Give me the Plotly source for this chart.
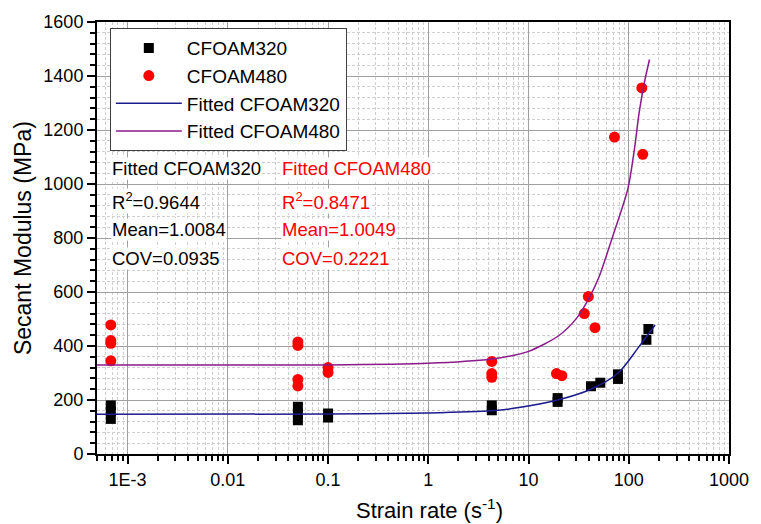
import math
import plotly.graph_objects as go

# ---- data ----
rate_320 = [0.00068, 0.00068, 0.00068, 0.05, 0.05, 0.05, 0.1, 0.1, 4.3, 4.3,
            19.5, 19.5, 42, 52, 78, 78, 150, 157]
mod_320 = [180, 158, 130, 175, 150, 125, 150, 135, 180, 162,
           207, 193, 251, 264, 295, 278, 423, 463]

rate_480 = [0.00068, 0.00068, 0.00068, 0.00068, 0.05, 0.05, 0.05, 0.05, 0.1, 0.1,
            4.3, 4.3, 4.3, 19, 21.5, 36, 39.5, 46, 72, 135, 138]
mod_480 = [478, 420, 410, 345, 415, 402, 276, 252, 320, 302,
           343, 298, 284, 298, 290, 520, 583, 468, 1174, 1356, 1110]

fit_rate_320 = [0.00049, 0.1, 1, 4.3, 7.4, 19.5, 41.8, 78.5, 125, 183]
fit_mod_320 = [147, 148, 152, 160, 170, 200, 240, 300, 395, 478]

fit_rate_480 = [0.00049, 0.1, 1, 4.3, 7.4, 10, 20, 30.5, 39.5, 50, 70, 98, 114, 127, 143, 161]
fit_mod_480 = [330, 330, 336, 352, 367, 380, 438, 505, 573, 652, 812, 983, 1130, 1265, 1375, 1461]

x_tickvals = [0.001, 0.01, 0.1, 1, 10, 100, 1000]
x_ticktext = ["1E-3", "0.01", "0.1", "1", "10", "100", "1000"]

FONT = "Liberation Sans, Arial, sans-serif"

fig = go.Figure()
fig.add_trace(go.Scatter(x=rate_320, y=mod_320, mode="markers", name="CFOAM320",
                         marker=dict(symbol="square", size=10, color="black")))
fig.add_trace(go.Scatter(x=rate_480, y=mod_480, mode="markers", name="CFOAM480",
                         marker=dict(symbol="circle", size=11, color="#ff0000")))
fig.add_trace(go.Scatter(x=fit_rate_320, y=fit_mod_320, mode="lines", name="Fitted CFOAM320",
                         line=dict(color="#1c1c8f", width=1.5, shape="spline", smoothing=0.8)))
fig.add_trace(go.Scatter(x=fit_rate_480, y=fit_mod_480, mode="lines", name="Fitted CFOAM480",
                         line=dict(color="#8b1a8b", width=1.5, shape="spline", smoothing=0.8)))

grid_major = "#a0a0a0"
grid_minor = "#cfcfcf"
minor_dash = "3px,2px"

fig.update_xaxes(type="log", range=[math.log10(0.000495), 3],
                 tickmode="array", tickvals=x_tickvals, ticktext=x_ticktext,
                 ticks="outside", ticklen=8, tickwidth=1.5, tickcolor="black",
                 showline=True, linecolor="black", linewidth=2, mirror=True,
                 showgrid=True, gridcolor=grid_major, gridwidth=1,
                 minor=dict(dtick="D1", ticks="outside", ticklen=5, tickcolor="black",
                            showgrid=True, gridcolor=grid_minor, griddash=minor_dash),
                 tickfont=dict(family=FONT, size=18, color="black"), zeroline=False)
fig.update_yaxes(range=[0, 1600], dtick=200, tick0=0,
                 ticks="outside", ticklen=8, tickwidth=1.5, tickcolor="black",
                 showline=True, linecolor="black", linewidth=2, mirror=True,
                 showgrid=True, gridcolor=grid_major, gridwidth=1,
                 minor=dict(dtick=40, ticks="outside", ticklen=5, tickcolor="black",
                            showgrid=True, gridcolor=grid_minor, griddash=minor_dash),
                 tickfont=dict(family=FONT, size=18, color="black"), zeroline=False)

annots = []
left_rows = ["Fitted CFOAM320", "R<sup>2</sup>=0.9644", "Mean=1.0084", "COV=0.0935"]
right_rows = ["Fitted CFOAM480", "R<sup>2</sup>=0.8471", "Mean=1.0049", "COV=0.2221"]
row_y = [0.660, 0.5855, 0.519, 0.4536]
for txt, yy in zip(left_rows, row_y):
    annots.append(dict(text=txt, x=0.022, y=yy, xref="paper", yref="paper",
                       xanchor="left", yanchor="middle", showarrow=False,
                       bgcolor="white", borderpad=0,
                       font=dict(family=FONT, size=18.5, color="black")))
for txt, yy in zip(right_rows, row_y):
    annots.append(dict(text=txt, x=0.291, y=yy, xref="paper", yref="paper",
                       xanchor="left", yanchor="middle", showarrow=False,
                       bgcolor="white", borderpad=0,
                       font=dict(family=FONT, size=18.5, color="#ff0000")))
# axis titles
annots.append(dict(text="Strain rate (s<sup>-1</sup>)", x=0.526, y=-0.128,
                   xref="paper", yref="paper", xanchor="center", yanchor="middle",
                   showarrow=False, font=dict(family=FONT, size=22, color="black")))
annots.append(dict(text="Secant Modulus (MPa)", x=-0.117, y=0.5, textangle=-90,
                   xref="paper", yref="paper", xanchor="center", yanchor="middle",
                   showarrow=False, font=dict(family=FONT, size=23, color="black")))

fig.update_layout(
    width=761, height=524,
    margin=dict(l=97, r=23, t=19, b=70),
    paper_bgcolor="white", plot_bgcolor="white",
    font=dict(family=FONT, color="black"),
    showlegend=True,
    legend=dict(x=0.0203, y=0.986, xanchor="left", yanchor="top",
                bgcolor="white", bordercolor="#404040", borderwidth=1,
                font=dict(family=FONT, size=19, color="black"),
                itemwidth=66, tracegroupgap=0),
    annotations=annots,
)

fig.write_html("out.html")
